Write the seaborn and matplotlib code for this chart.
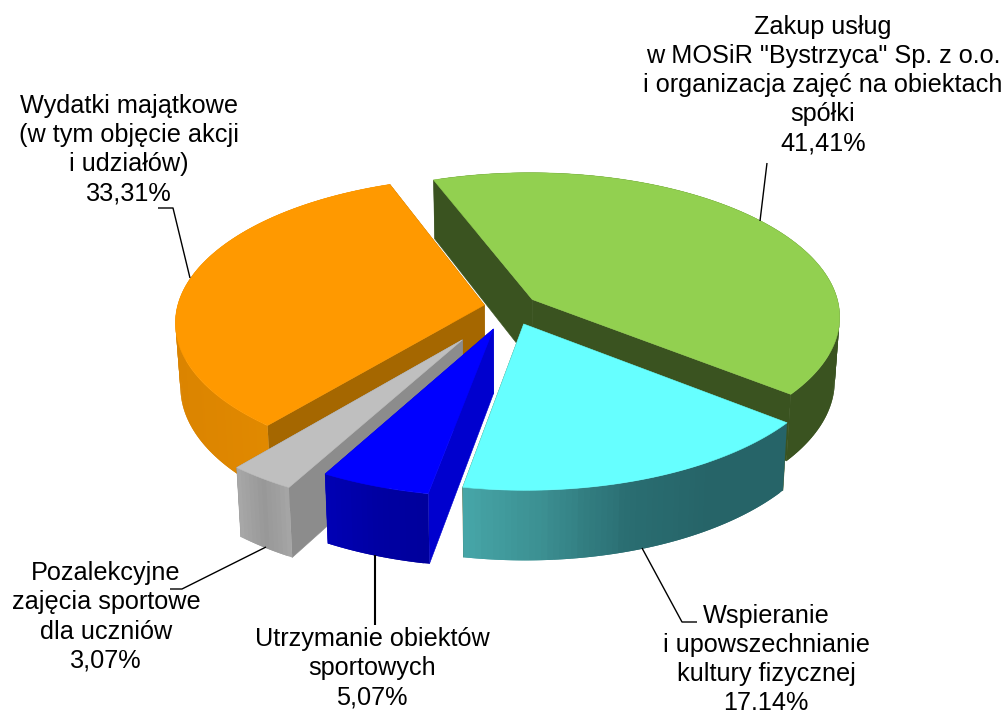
import numpy as np
import seaborn as sns
import matplotlib
matplotlib.use("Agg")
import matplotlib.pyplot as plt
from matplotlib.patches import Polygon

# share of each slice, clockwise, first one is the green one
names = [
    'Zakup usług\nw MOSiR "Bystrzyca" Sp. z o.o.\ni organizacja zajęć na obiektach\nspółki',
    "Wspieranie\ni upowszechnianie\nkultury fizycznej",
    "Utrzymanie obiektów\nsportowych",
    "Pozalekcyjne\nzajęcia sportowe\ndla uczniów",
    "Wydatki majątkowe\n(w tym objęcie akcji\ni udziałów)",
]
values = [41.41, 17.14, 5.07, 3.07, 33.31]
value_text = ["41,41%", "17.14%", "5,07%", "3,07%", "33,31%"]

top_colors = ["#92D050", "#66FFFF", "#0000FF", "#BFBFBF", "#FF9900"]
rim_colors = [
    ["#3A5320", "#3A5320"],
    ["#46A5A7", "#3B8E90", "#2A6E72", "#266468", "#266468"],
    ["#0000B4", "#0000A2", "#00009C"],
    ["#A8A8A8", "#989898", "#A6A6A6"],
    ["#DB8400", "#E28A00", "#E08900"],
]
side_colors = ["#3A5320", "#3A5320", "#0000CE", "#8C8C8C", "#A56700"]
explode = [0.09, 0.125, 0.16, 0.27, 0.085]

# fake 3d view of the pie
cx, cy = 510, 307
rx, ry = 307, 143
persp = 0.115
depth = 63.5
shrink = 0.985
start = -20.5
draw_order = [0, 4, 1, 3, 2]

sns.set_theme(style="white")
plt.rcParams["font.family"] = ["Liberation Sans", "DejaVu Sans"]

fig = plt.figure(figsize=(10.07, 7.11), dpi=100)
ax = fig.add_axes([0, 0, 1, 1])
ax.set_xlim(0, 1007)
ax.set_ylim(711, 0)
ax.axis("off")


def project(x, y):
    p = 1 / (1 + persp * y)
    return cx + rx * x * p, cy - ry * y * p, p


def lower(sx, sy, p):
    return cx + (sx - cx) * shrink, cy + (sy - cy) * shrink + depth * p


def draw_slice(i, t1, t2):
    mid = np.radians((t1 + t2) / 2)
    ox, oy = explode[i] * np.sin(mid), explode[i] * np.cos(mid)
    th = np.radians(np.linspace(t1, t2, int(t2 - t1) + 2))
    ax_, ay_, ap = project(ox, oy)
    rim_x, rim_y, rim_p = project(ox + np.sin(th), oy + np.cos(th))
    low_x, low_y = lower(rim_x, rim_y, rim_p)
    alow_x, alow_y = lower(ax_, ay_, ap)

    walls = []
    for j in [0, -1]:
        quad = [(ax_, ay_), (rim_x[j], rim_y[j]), (low_x[j], low_y[j]), (alow_x, alow_y)]
        walls.append((np.mean([q[1] for q in quad]), quad, side_colors[i]))
    for _, quad, col in sorted(walls, key=lambda w: w[0]):
        ax.add_patch(Polygon(quad, closed=True, fc=col, ec=col, lw=0.4))

    # rim pieces overlap the next one so no seams show
    shades = sns.blend_palette(rim_colors[i], n_colors=64)
    span = max(rim_x.max() - rim_x.min(), 1)
    n = len(th)
    for j in range(n - 1):
        e = min(j + 2, n - 1)
        quad = [(rim_x[q], rim_y[q]) for q in range(j, e + 1)]
        quad += [(low_x[q], low_y[q]) for q in range(e, j - 1, -1)]
        k = int(63 * ((rim_x[j] + rim_x[j + 1]) / 2 - rim_x.min()) / span)
        ax.add_patch(Polygon(quad, closed=True, fc=shades[k], ec="none"))

    top = [(ax_, ay_)] + list(zip(rim_x, rim_y))
    ax.add_patch(Polygon(top, closed=True, fc=top_colors[i], ec=top_colors[i], lw=0.4))


edges = start + np.cumsum([0] + values) / sum(values) * 360
for i in draw_order:
    draw_slice(i, edges[i], edges[i + 1])

# leader lines
leaders = [
    ([767, 760], [163, 221], 1.0),
    ([642, 682, 697], [548, 622, 622], 1.0),
    ([375, 375], [555, 625], 1.5),
    ([266, 182, 170], [547, 589, 589], 1.0),
    ([158, 173, 190], [208, 208, 278], 1.0),
]
for lx, ly, w in leaders:
    ax.plot(lx, ly, color="black", lw=w, solid_capstyle="butt")

label_pos = [(823, 85), (766, 659.5), (372, 668), (106, 617), (129, 149.5)]
for name, val, (tx, ty) in zip(names, value_text, label_pos):
    ax.text(tx, ty, name + "\n" + val, ha="center", va="center", fontsize=18.2,
            color="black", linespacing=1.27, multialignment="center")

fig.savefig("out.png", dpi=100)
